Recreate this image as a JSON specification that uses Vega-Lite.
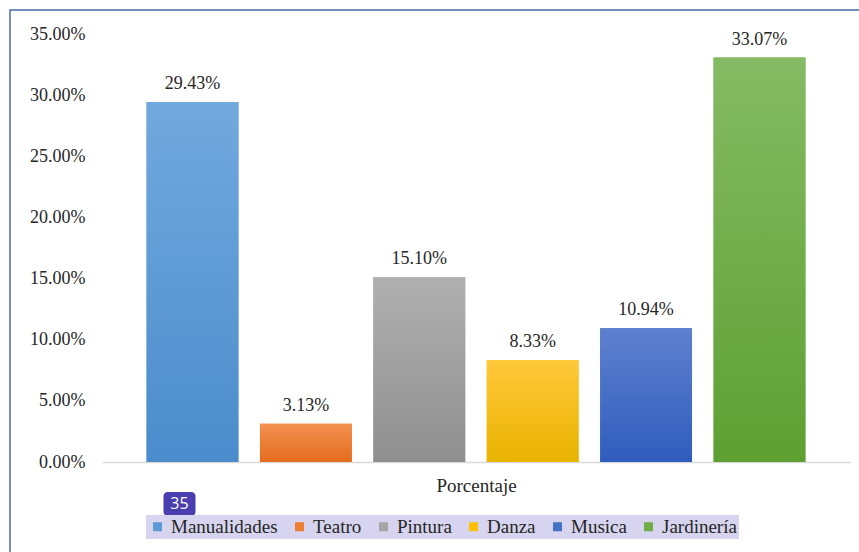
{
  "$schema": "https://vega.github.io/schema/vega-lite/v6.json",
  "autosize": {"type": "none"},
  "width": 748,
  "height": 428,
  "padding": {"left": 102, "top": 34, "right": 9, "bottom": 90},
  "background": "white",
  "config": {"view": {"stroke": null}, "font": "Liberation Serif"},
  "resolve": {"scale": {"x": "independent", "y": "independent"}, "axis": {"x": "independent", "y": "independent"}},
  "layer": [
    {
      "data": {"values": [{"marco": "borde"}]},
      "mark": {"type": "rect", "fillOpacity": 0, "stroke": "#4a69a8", "strokeWidth": 1.5},
      "encoding": {
        "x": {"datum": -0.123, "type": "quantitative", "scale": {"domain": [0, 1], "nice": false, "zero": false}, "axis": null},
        "x2": {"datum": 1.05},
        "y": {"datum": 0.3696, "type": "quantitative", "scale": {"domain": [0, 0.35], "nice": false}, "axis": null},
        "y2": {"datum": -0.1}
      }
    },
    {
      "layer": [
        {
          "data": {"values": [
            {"actividad": "Manualidades", "porcentaje": 0.2943},
            {"actividad": "Teatro", "porcentaje": 0.0313},
            {"actividad": "Pintura", "porcentaje": 0.1510},
            {"actividad": "Danza", "porcentaje": 0.0833},
            {"actividad": "Musica", "porcentaje": 0.1094},
            {"actividad": "Jardinería", "porcentaje": 0.3307}
          ]},
          "encoding": {
            "x": {
              "field": "actividad", "type": "nominal", "sort": null,
              "scale": {"domain": ["Manualidades", "Teatro", "Pintura", "Danza", "Musica", "Jardinería"], "paddingInner": 0.19, "paddingOuter": 0.393},
              "axis": {"labels": false, "ticks": false, "domain": true, "domainColor": "#d9d9d9", "domainWidth": 1.5, "title": "Porcentaje", "titleFont": "Liberation Serif", "titleFontSize": 19, "titleFontWeight": "normal", "titleColor": "#262626", "titlePadding": 14}
            },
            "y": {
              "field": "porcentaje", "type": "quantitative",
              "scale": {"domain": [0, 0.35], "nice": false},
              "axis": {"format": ".2%", "values": [0, 0.05, 0.1, 0.15, 0.2, 0.25, 0.3, 0.35], "title": null, "domain": false, "ticks": false, "labelPadding": 17, "labelFontSize": 18, "labelFont": "Liberation Serif", "labelColor": "#262626", "gridColor": "#d9d9d9", "gridWidth": 1.5}
            }
          },
          "layer": [
            {
              "mark": {"type": "bar"},
              "encoding": {
                "color": {
                  "field": "actividad", "type": "nominal", "sort": null,
                  "scale": {
                    "domain": ["Manualidades", "Teatro", "Pintura", "Danza", "Musica", "Jardinería"],
                    "range": ["#5b9bd5", "#ed7d31", "#a5a5a5", "#ffc000", "#4472c4", "#70ad47"]
                  },
                  "legend": {"orient": "none", "legendX": 44, "legendY": 481, "direction": "horizontal", "columns": 6, "title": null, "symbolType": "square", "symbolSize": 81, "symbolStrokeWidth": 0, "symbolOpacity": 1, "labelFont": "Liberation Serif", "labelFontSize": 19, "labelColor": "#262626", "labelOffset": 4, "columnPadding": 12, "fillColor": "#d6d4ee", "padding": 2}
                }
              }
            },
            {
              "transform": [{"filter": "datum.actividad === 'Manualidades'"}],
              "mark": {"type": "bar", "color": {"gradient": "linear", "x1": 0, "y1": 0, "x2": 0, "y2": 1, "stops": [{"offset": 0, "color": "#72a9de"}, {"offset": 1, "color": "#4a8ccc"}]}}
            },
            {
              "transform": [{"filter": "datum.actividad === 'Teatro'"}],
              "mark": {"type": "bar", "color": {"gradient": "linear", "x1": 0, "y1": 0, "x2": 0, "y2": 1, "stops": [{"offset": 0, "color": "#f39150"}, {"offset": 1, "color": "#e46c1e"}]}}
            },
            {
              "transform": [{"filter": "datum.actividad === 'Pintura'"}],
              "mark": {"type": "bar", "color": {"gradient": "linear", "x1": 0, "y1": 0, "x2": 0, "y2": 1, "stops": [{"offset": 0, "color": "#b0b0b0"}, {"offset": 1, "color": "#8f8f8f"}]}}
            },
            {
              "transform": [{"filter": "datum.actividad === 'Danza'"}],
              "mark": {"type": "bar", "color": {"gradient": "linear", "x1": 0, "y1": 0, "x2": 0, "y2": 1, "stops": [{"offset": 0, "color": "#ffc83a"}, {"offset": 1, "color": "#e9b300"}]}}
            },
            {
              "transform": [{"filter": "datum.actividad === 'Musica'"}],
              "mark": {"type": "bar", "color": {"gradient": "linear", "x1": 0, "y1": 0, "x2": 0, "y2": 1, "stops": [{"offset": 0, "color": "#5f80cf"}, {"offset": 1, "color": "#2f5dbd"}]}}
            },
            {
              "transform": [{"filter": "datum.actividad === 'Jardinería'"}],
              "mark": {"type": "bar", "color": {"gradient": "linear", "x1": 0, "y1": 0, "x2": 0, "y2": 1, "stops": [{"offset": 0, "color": "#85bb64"}, {"offset": 1, "color": "#5e9f32"}]}}
            },
            {
              "mark": {"type": "text", "dy": -13, "baseline": "alphabetic", "fontSize": 18, "font": "Liberation Serif", "color": "#262626"},
              "encoding": {
                "text": {"field": "porcentaje", "type": "quantitative", "format": ".2%"}
              }
            }
          ]
        },
        {
          "data": {"values": [{"actividad": "Manualidades", "insignia": "35"}]},
          "layer": [
            {
              "mark": {"type": "bar", "width": 32, "cornerRadius": 4, "color": "#4b3fb0", "xOffset": -13},
              "encoding": {
                "x": {"field": "actividad", "type": "nominal"},
                "y": {"datum": -0.0245, "type": "quantitative"},
                "y2": {"datum": -0.0442}
              }
            },
            {
              "mark": {"type": "text", "color": "white", "font": "Open Sans", "fontSize": 16, "baseline": "middle", "xOffset": -13},
              "encoding": {
                "x": {"field": "actividad", "type": "nominal"},
                "y": {"datum": -0.0343, "type": "quantitative"},
                "text": {"field": "insignia"}
              }
            }
          ]
        }
      ]
    }
  ]
}
